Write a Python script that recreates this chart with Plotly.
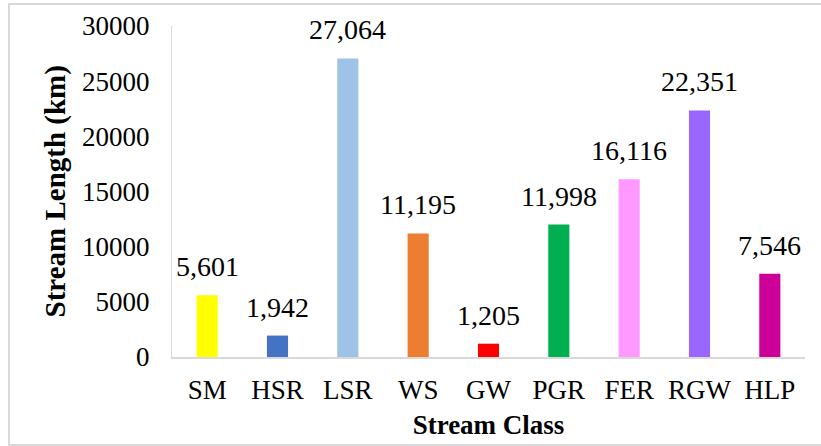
import plotly.graph_objects as go

categories = ["SM", "HSR", "LSR", "WS", "GW", "PGR", "FER", "RGW", "HLP"]
lengths = [5601, 1942, 27064, 11195, 1205, 11998, 16116, 22351, 7546]
colors = ["#FFFF00", "#4472C4", "#9DC3E6", "#ED7D31", "#FF0000",
          "#00B050", "#FF99FF", "#9966FF", "#CC0099"]
y_ticks = [0, 5000, 10000, 15000, 20000, 25000, 30000]

FONT = "Liberation Serif"

fig = go.Figure(go.Bar(
    x=categories, y=lengths, marker_color=colors, marker_line_width=0,
    hoverinfo="x+y",
))

for c, v in zip(categories, lengths):
    fig.add_annotation(
        x=c, y=v, text=f"{v:,}", showarrow=False, yanchor="bottom",
        yshift=11, font=dict(family=FONT, size=28, color="#000"),
    )

L, R, T, B = 172, 16, 26, 89
W, H = 821, 446
pw, ph = W - L - R, H - T - B

fig.add_annotation(
    xref="paper", yref="paper", x=(55 - L) / pw, y=0.5, xanchor="center",
    yanchor="middle", textangle=-90, showarrow=False,
    text="<b>Stream Length (km)</b>", font=dict(family=FONT, size=29, color="#000"),
)

fig.update_layout(
    width=W, height=H,
    margin=dict(l=L, r=R, t=T, b=B),
    paper_bgcolor="white", plot_bgcolor="white",
    bargap=0.7, showlegend=False,
    font=dict(family=FONT, size=27, color="#000"),
    xaxis=dict(
        showline=True, linecolor="#d9d9d9", linewidth=2, ticks="",
        tickfont=dict(family=FONT, size=27), showgrid=False, automargin=False,
        ticklabelstandoff=8,
        title=dict(text="<b>Stream Class</b>", font=dict(family=FONT, size=27), standoff=11),
    ),
    yaxis=dict(
        range=[0, 30000], tickvals=y_ticks, tickformat="d",
        showline=True, linecolor="#d9d9d9", linewidth=1, ticks="",
        ticklabelstandoff=16, automargin=False,
        showgrid=False, zeroline=False, tickfont=dict(family=FONT, size=27),
    ),
    shapes=[dict(
        type="rect", xref="paper", yref="paper", layer="below",
        x0=(9 - L) / pw, x1=(824 - L) / pw,
        y0=-(445 - (H - B)) / ph, y1=1 + (T - 4) / ph,
        line=dict(color="#d9d9d9", width=2), fillcolor="rgba(0,0,0,0)",
    )],
)

fig.write_html(
    "out.html",
    config={"displayModeBar": False},
    post_script="document.body.style.margin='0';document.body.style.padding='0';",
)
